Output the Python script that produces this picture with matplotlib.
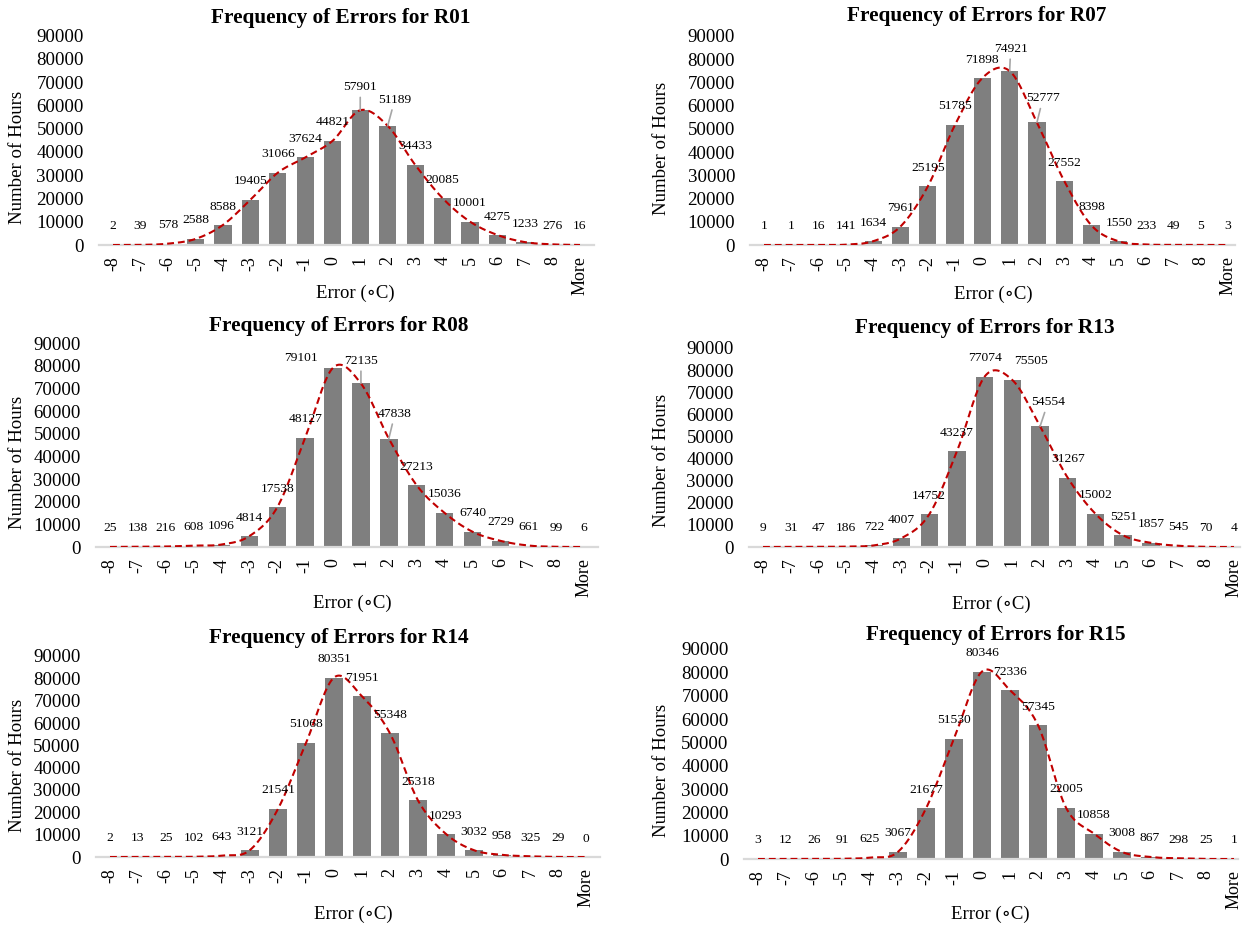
import numpy as np
import matplotlib.pyplot as plt

plt.rcParams['font.family'] = ['Liberation Serif', 'DejaVu Serif']

# data
categories = ['-8', '-7', '-6', '-5', '-4', '-3', '-2', '-1', '0', '1', '2',
              '3', '4', '5', '6', '7', '8', 'More']
stations = ['R01', 'R07', 'R08', 'R13', 'R14', 'R15']
r01 = [2, 39, 578, 2588, 8588, 19405, 31066, 37624, 44821, 57901, 51189,
       34433, 20085, 10001, 4275, 1233, 276, 16]
r07 = [1, 1, 16, 141, 1634, 7961, 25195, 51785, 71898, 74921, 52777,
       27552, 8398, 1550, 233, 49, 5, 3]
r08 = [25, 138, 216, 608, 1096, 4814, 17538, 48127, 79101, 72135, 47838,
       27213, 15036, 6740, 2729, 661, 99, 6]
r13 = [9, 31, 47, 186, 722, 4007, 14752, 43237, 77074, 75505, 54554,
       31267, 15002, 5251, 1857, 545, 70, 4]
r14 = [2, 13, 25, 102, 643, 3121, 21541, 51068, 80351, 71951, 55348,
       25318, 10293, 3032, 958, 325, 29, 0]
r15 = [3, 12, 26, 91, 625, 3067, 21677, 51530, 80346, 72336, 57345,
       22005, 10858, 3008, 867, 298, 25, 1]
counts = [r01, r07, r08, r13, r14, r15]
yticks = list(range(0, 90001, 10000))

##layout in pixels of the 1244x926 picture
W, H = 1244, 926
# centre of first bar, centre of last bar, right end of axis line, y of 90000, y of 0
boxes = [(113, 580, 594, 35.5, 245),
         (764, 1228, 1235, 36, 245),
         (110, 584, 598, 343, 547),
         (763, 1234, 1240, 348, 547),
         (110, 586, 600, 656, 857),
         (758, 1234, 1238, 649, 859)]
title_xy = [(341, 18), (977, 16), (339, 326), (985, 328), (339, 638), (996, 635)]
xlabel_xy = [(355, 293), (993, 294), (352, 603), (991, 604), (353, 914), (990, 914)]
ylabel_xy = [(18, 157), (661, 148), (18, 462), (661, 460), (18, 765), (661, 770)]
# data labels that were dragged away: bar index -> (dx px, dy px, leader line)
moved = [{9: (0, 23, True), 10: (7, 26, True)},
         {9: (1, 22, True), 10: (6, 24, True)},
         {8: (-32, 10, False), 9: (0, 22.5, True), 10: (6, 24.6, True)},
         {9: (19, 19, False), 10: (8, 24, True)},
         {},
         {}]
LABEL_DY = 18.5  # px above bar top


def smooth(x, y, n=20):
    # catmull-rom like the smoothed line option in a spreadsheet
    p = np.column_stack([x, y]).astype(float)
    p = np.vstack([p[0], p, p[-1]])
    t = np.linspace(0, 1, n, endpoint=False)[:, None]
    out = []
    for i in range(1, len(p) - 2):
        p0, p1, p2, p3 = p[i - 1], p[i], p[i + 1], p[i + 2]
        c1 = p1 + (p2 - p0) / 6
        c2 = p2 - (p3 - p1) / 6
        seg = ((1 - t) ** 3) * p1 + 3 * ((1 - t) ** 2) * t * c1 + 3 * (1 - t) * t ** 2 * c2 + t ** 3 * p2
        out.append(seg)
    out.append(p[-2][None, :])
    out = np.vstack(out)
    return out[:, 0], out[:, 1]


fig = plt.figure(figsize=(W / 100, H / 100), dpi=100)
px = 0.72  # points per pixel

for k in range(6):
    x0, x17, xr, ytop, ybot = boxes[k]
    s = (x17 - x0) / 17
    left = x0 - 0.5 * s
    ax = fig.add_axes([left / W, 1 - ybot / H, (xr - left) / W, (ybot - ytop) / H])
    vals = counts[k]
    xs = np.arange(len(categories))
    ax.bar(xs, vals, width=0.63, color='#7f7f7f', zorder=2)
    cx, cy = smooth(xs, vals)
    ax.plot(cx, cy, color='#c00000', lw=1.5, linestyle=(0, (3.3, 1.9)), zorder=3)

    for i, v in enumerate(vals):
        dx, dy, leader = moved[k].get(i, (0, LABEL_DY, False))
        props = None
        if leader:
            props = dict(arrowstyle='-', color='#a6a6a6', lw=1.2, shrinkA=1, shrinkB=0)
        ax.annotate(str(v), (i, v), xytext=(dx * px, dy * px), textcoords='offset points',
                    ha='center', va='center', fontsize=9.7, arrowprops=props, zorder=4)

    ax.set_xlim(-0.5, 17 + (xr - x17) / s)
    ax.set_ylim(0, 90000)
    ax.set_xticks(xs)
    ax.set_xticklabels(categories, rotation=90, fontsize=13)
    ax.set_yticks(yticks)
    ax.set_yticklabels([str(t) for t in yticks], fontsize=13.6)
    ax.tick_params(axis='both', length=0)
    ax.tick_params(axis='x', pad=8)
    ax.tick_params(axis='y', pad=11)
    for side in ['top', 'right', 'left']:
        ax.spines[side].set_visible(False)
    ax.spines['bottom'].set_color('#d9d9d9')
    ax.spines['bottom'].set_linewidth(1.6)

    tx, ty = title_xy[k]
    fig.text(tx / W, 1 - ty / H, 'Frequency of Errors for ' + stations[k],
             ha='center', va='center', fontsize=15.3, fontweight='bold')
    lx, ly = xlabel_xy[k]
    fig.text(lx / W, 1 - ly / H, 'Error (\u2218C)', ha='center', va='center', fontsize=13.5)
    yx, yy = ylabel_xy[k]
    fig.text(yx / W, 1 - yy / H, 'Number of Hours', ha='center', va='center',
             rotation=90, fontsize=13.6)

fig.savefig('out.png', dpi=100)
